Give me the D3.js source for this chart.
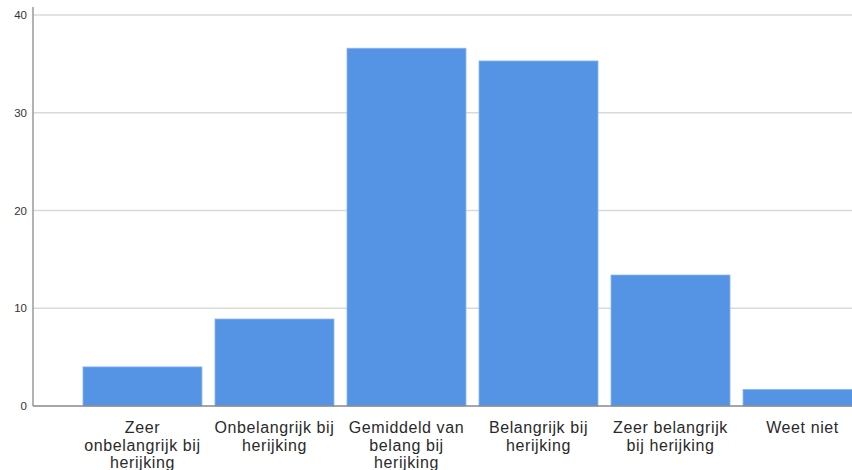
<!DOCTYPE html>
<html>
<head>
<meta charset="utf-8">
<script src="https://cdn.jsdelivr.net/npm/d3@7"></script>
<style>
  body { margin: 0; background: #fff; overflow: hidden; }
  svg { display: block; }
</style>
</head>
<body>
<div id="container"></div>
<script>
// chart size
const width = 852,
  height = 470,
  margin = { top: 15, bottom: 64, left: 33, right: -16 };

// data
const categories = ["zo", "ob", "gv", "bb", "zb", "wn"];
const labels = [
  ["Zeer", "onbelangrijk bij", "herijking"],
  ["Onbelangrijk bij", "herijking"],
  ["Gemiddeld van", "belang bij", "herijking"],
  ["Belangrijk bij", "herijking"],
  ["Zeer belangrijk", "bij herijking"],
  ["Weet niet"]
];
const values = [4.0, 8.9, 36.6, 35.3, 13.4, 1.7];
const yTicks = [0, 10, 20, 30, 40];

const svg = d3.select("#container")
  .append("svg")
  .attr("width", width)
  .attr("height", height);

const y = d3.scaleLinear()
  .domain([0, 40])
  .range([406, 15]);

const x = d3.scaleBand()
  .domain(categories)
  .range([76.5, 868.5])
  .paddingInner(0.0985)
  .paddingOuter(0.049);

// gridlines
svg.append("g")
  .selectAll("line")
  .data(yTicks.filter(d => d > 0))
  .join("line")
  .attr("x1", margin.left)
  .attr("x2", width)
  .attr("y1", d => y(d))
  .attr("y2", d => y(d))
  .attr("stroke", "#d9d9d9")
  .attr("stroke-width", 1.5);

// bars
svg.append("g")
  .selectAll("rect")
  .data(values)
  .join("rect")
  .attr("x", (d, i) => x(categories[i]))
  .attr("width", x.bandwidth())
  .attr("y", d => y(d))
  .attr("height", d => y(0) - y(d))
  .attr("fill", "#5594e4")
  .attr("stroke", "#8db7ef")
  .attr("stroke-width", 0.8);

// y axis
const yAxis = d3.axisLeft(y)
  .tickValues(yTicks)
  .tickSize(0)
  .tickPadding(6);

const yg = svg.append("g")
  .attr("transform", `translate(${margin.left},0)`)
  .call(yAxis);
yg.select(".domain").remove();
yg.selectAll("text")
  .attr("font-family", "Arial, 'Liberation Sans', sans-serif")
  .attr("font-size", 11.5)
  .attr("fill", "#333");

svg.append("line")
  .attr("x1", margin.left)
  .attr("x2", margin.left)
  .attr("y1", 7)
  .attr("y2", y(0))
  .attr("stroke", "#999")
  .attr("stroke-width", 1.5);

// x baseline
svg.append("line")
  .attr("x1", margin.left)
  .attr("x2", width)
  .attr("y1", y(0))
  .attr("y2", y(0))
  .attr("stroke", "#888")
  .attr("stroke-width", 1.5);

// x labels
const lab = svg.append("g")
  .selectAll("text")
  .data(labels)
  .join("text")
  .attr("x", (d, i) => x(categories[i]) + x.bandwidth() / 2)
  .attr("y", 433)
  .attr("text-anchor", "middle")
  .attr("font-family", "Arial, 'Liberation Sans', sans-serif")
  .attr("font-size", 16)
  .attr("letter-spacing", 0.6)
  .attr("fill", "#2a2a2a");

lab.selectAll("tspan")
  .data(d => d)
  .join("tspan")
  .attr("x", function () { return this.parentNode.getAttribute("x"); })
  .attr("dy", (d, i) => i === 0 ? 0 : 17.5)
  .text(d => d);
</script>
</body>
</html>
